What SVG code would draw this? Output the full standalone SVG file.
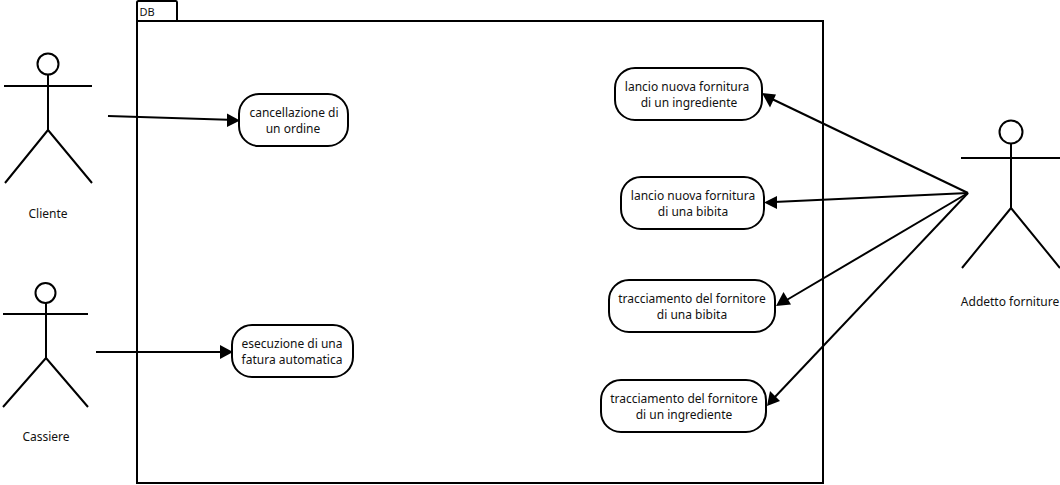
<svg xmlns="http://www.w3.org/2000/svg" width="1060" height="485" viewBox="0 0 1060 485">
<style>
.s{fill:none;stroke:#000;stroke-width:2}
.u{fill:#fff;stroke:#000;stroke-width:2}
.c{fill:none;stroke:#000;stroke-width:2}
.h{fill:#000;stroke:none}
text{font-family:"Noto Sans","DejaVu Sans",sans-serif;font-size:12px;fill:#111;text-anchor:middle}
</style>
<rect width="1060" height="485" fill="#fff"/>
<g id="package-db">
<path class="s" d="M137 483V2.500Q137 1 138.500 1H176Q177 1 177 2.500V21M137 21H823V483H137Z"/>
<text x="147" y="16" style="font-size:11px">DB</text>
</g>
<g id="actor-cliente">
<circle class="s" cx="48" cy="64" r="10.500"/>
<path class="s" d="M4 86H92M48 74.500V130M48 130L5 183M48 130L92 183"/>
<text x="48" y="218">Cliente</text>
</g>
<g id="actor-cassiere">
<circle class="s" cx="45.500" cy="293" r="10"/>
<path class="s" d="M3 314H88M46 303V358M46 358L3 407M46 358L88 407"/>
<text x="46" y="441">Cassiere</text>
</g>
<g id="actor-addetto">
<circle class="s" cx="1011" cy="132" r="11.500"/>
<path class="s" d="M961 158H1060M1011 144V208M1011 208L962 268M1011 208L1060 268"/>
<text x="1010" y="306">Addetto forniture</text>
</g>
<g id="uc-cancellazione">
<rect class="u" x="239" y="94" width="109" height="52" rx="20" ry="20"/>
<text x="294" y="117">cancellazione di</text>
<text x="293" y="133">un ordine</text>
</g>
<g id="uc-esecuzione">
<rect class="u" x="232" y="325" width="121" height="52" rx="20" ry="20"/>
<text x="292" y="348">esecuzione di una</text>
<text x="292" y="364">fatura automatica</text>
</g>
<g id="uc-lancio-ingrediente">
<rect class="u" x="615" y="68" width="147" height="52" rx="20" ry="20"/>
<text x="687" y="91">lancio nuova fornitura</text>
<text x="689" y="107">di un ingrediente</text>
</g>
<g id="uc-lancio-bibita">
<rect class="u" x="621" y="177" width="143" height="52" rx="20" ry="20"/>
<text x="693" y="200">lancio nuova fornitura</text>
<text x="693" y="216">di una bibita</text>
</g>
<g id="uc-tracciamento-bibita">
<rect class="u" x="609" y="280" width="166" height="52" rx="20" ry="20"/>
<text x="692" y="303">tracciamento del fornitore</text>
<text x="692" y="319">di una bibita</text>
</g>
<g id="uc-tracciamento-ingrediente">
<rect class="u" x="601" y="380" width="165" height="52" rx="20" ry="20"/>
<text x="684" y="403">tracciamento del fornitore</text>
<text x="684" y="419">di un ingrediente</text>
</g>
<g id="connectors">
<path class="c" d="M108 116L228 119.700"/>
<polygon class="h" points="240,120.500 227,113.500 227,127"/>
<path class="c" d="M96 352H222"/>
<polygon class="h" points="233,352 220,345 220,359"/>
<path class="c" d="M968 193L772 99"/>
<polygon class="h" points="762,93 770,107.500 776,94.500"/>
<path class="c" d="M968 193L774 202"/>
<polygon class="h" points="764,202.500 777,196 777,209"/>
<path class="c" d="M968 193L785 301"/>
<polygon class="h" points="776,306 791,304.500 783.500,292"/>
<path class="c" d="M968 193L774 398"/>
<polygon class="h" points="767,406 780,401 770,391"/>
</g>
</svg>
